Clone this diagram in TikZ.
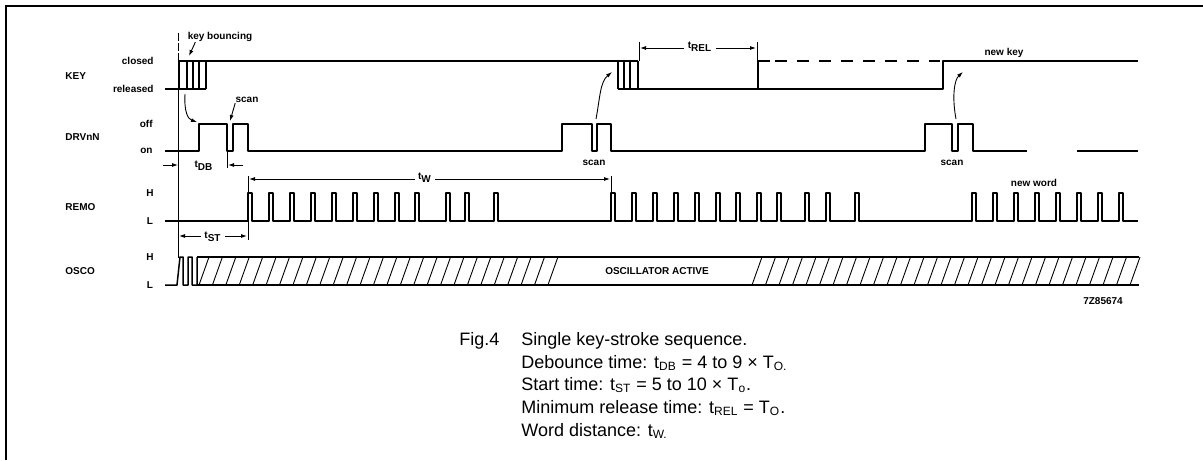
\documentclass[tikz,border=0pt]{standalone}
\usepackage{fontspec}
\setmainfont{Liberation Sans}
\usetikzlibrary{arrows.meta}
\begin{document}
\begin{tikzpicture}[x=0.5pt,y=-0.5pt,
  wave/.style={line width=0.75pt, line join=round},
  dim/.style={line width=0.4pt},
  arr/.style={line width=0.45pt, -{Latex[length=3pt,width=2pt]}},
  lbl/.style={font=\fontsize{5}{6}\selectfont\bfseries, inner sep=0pt},
  sig/.style={font=\fontsize{5}{6}\selectfont\bfseries, inner sep=0pt, anchor=west},
  lev/.style={font=\fontsize{5}{6}\selectfont\bfseries, inner sep=0pt, anchor=east},
  captxt/.style={font=\fontsize{9}{11}\selectfont, inner sep=0pt, anchor=base west},
  hatch/.style={line width=0.45pt}]
\useasboundingbox (0,0) rectangle (1203,460);
% frame
\draw[line width=1pt] (1203,6) -- (6,6) -- (6,460);

% signal names
\node[sig] (nkey) at (65,76) {KEY};
\node[sig] (ndrv) at (65,137) {DRVnN};
\node[sig] (nremo) at (65,207) {REMO};
\node[sig] (nosco) at (65,271) {OSCO};
% level labels
\node[lev] (lclosed) at (154,61) {closed};
\node[lev] (lrel) at (154,89) {released};
\node[lev] (loff) at (153,124) {off};
\node[lev] (lon) at (153,151) {on};
\node[lbl] (lh1) at (150,193) {H};
\node[lbl] (ll1) at (150,221) {L};
\node[lbl] (lh2) at (150,257) {H};
\node[lbl] (ll2) at (150,285) {L};

% reference vertical line
\draw[dim, dash pattern=on 4pt off 1pt] (178,33) -- (178,61);
\draw[dim] (178,89) -- (178,258);

% KEY waveform
\draw[wave] (165,89) -- (206,89);
\draw[wave] (179,89) -- (179,61) -- (638,61);
\foreach \v in {187,193,199,206} \draw[wave] (\v,61) -- (\v,89);
\foreach \v in {618,624,630,638} \draw[wave] (\v,61) -- (\v,89);
\draw[wave] (618,89) -- (943,89) -- (943,61) -- (1138,61);
\draw[wave] (758,89) -- (758,61) -- (770,61);
\draw[wave, dash pattern=on 6pt off 5pt] (775,61) -- (940,61);

% DRVnN waveform
\draw[wave] (165,151) -- (199,151) -- (199,124) -- (227,124) -- (227,151) -- (233,151) -- (233,124) -- (248,124) -- (248,151)
  -- (562,151) -- (562,124) -- (592,124) -- (592,151) -- (597,151) -- (597,124) -- (611,124) -- (611,151)
  -- (925,151) -- (925,124) -- (952,124) -- (952,151) -- (958,151) -- (958,124) -- (973,124) -- (973,151) -- (1027,151);
\draw[wave] (1077,151) -- (1138,151);

% REMO waveform
\draw[wave] (165,221)
  foreach \p in {248,269,290,311,332,353,374,395,415,446,465,494,
                 611,632,653,674,695,716,736,757,777,805,826,855,
                 972,993,1014,1035,1056,1077,1098,1119}
  { -- (\p,221) -- (\p,193) -- (\p+4,193) -- (\p+4,221) } -- (1138,221);

% OSCO waveform
\draw[wave] (165,285) -- (177,285) -- (180,257) -- (183,257) -- (183,285) -- (188,285) -- (188,257) -- (192,257) -- (192,285) -- (197,285) -- (197,257);
\draw[wave] (197,257) -- (1139,257);
\draw[wave] (197,285) -- (1139,285);
\foreach \k in {0,...,26} \draw[hatch] ({199+13.42*\k},285) -- ({209+13.42*\k},257);
\foreach \k in {0,...,28} \draw[hatch] ({752+13.5*\k},285) -- ({762+13.5*\k},257);
\node[lbl] (osc) at (657,271) {OSCILLATOR ACTIVE};

% annotations
\node[lbl] (kb) at (220,37) {key bouncing};
\coordinate (kbt) at (189,56);
\draw[arr] (kb.south west) ++(8,0) -- (kbt);
\node[lbl] (scan1) at (247,100) {scan};
\coordinate (scan1t) at (230,121);
\draw[arr] (scan1.south west) -- (scan1t);
\coordinate (c1s) at (185,94);
\coordinate (c1e) at (197,122);
\draw[arr] (c1s) .. controls (184,112) and (188,119) .. (c1e);

\node[lbl] (scan2) at (594,163) {scan};
\coordinate (c2s) at (596,119);
\coordinate (c2e) at (612,72);
\draw[arr] (c2s) .. controls (600,98) and (600,82) .. (c2e);
\node[lbl] (scan3) at (952,163) {scan};
\coordinate (c3s) at (956,119);
\coordinate (c3e) at (963,72);
\draw[arr] (c3s) .. controls (952,98) and (954,80) .. (c3e);

\node[lbl] (newkey) at (1004,53) {new key};
\node[lbl] (newword) at (1034,183) {new word};
\node[lbl] (code) at (1103,301) {7Z85674};

% t_DB
\node[lbl] (tdb) at (204,166) {t\textsubscript{DB}};
\coordinate (tdbl) at (178,165);
\coordinate (tdbr) at (228,165);
\draw[arr] (163,165) -- (tdbl);
\draw[arr] (243,165) -- (tdbr);
\draw[dim] (227,152) -- (227,168);

% t_ST
\node[lbl] (tst) at (213,237) {t\textsubscript{ST}};
\coordinate (tstl) at (179,236);
\coordinate (tstr) at (247,236);
\draw[arr] (tst.west) ++(-3,-1) -- (tstl);
\draw[arr] (tst.east) ++(3,-1) -- (tstr);
\draw[dim] (248,221) -- (248,240);

% t_W
\node[lbl] (tw) at (425,178) {t\textsubscript{W}};
\coordinate (twl) at (249,179);
\coordinate (twr) at (610,179);
\draw[arr] (tw.west) ++(-3,1) -- (twl);
\draw[arr] (tw.east) ++(3,1) -- (twr);
\draw[dim] (248,176) -- (248,193);
\draw[dim] (611,176) -- (611,193);

% t_REL
\node[lbl] (trel) at (700,47) {t\textsubscript{REL}};
\coordinate (trell) at (640,48);
\coordinate (trelr) at (756,48);
\draw[arr] (trel.west) ++(-3,1) -- (trell);
\draw[arr] (trel.east) ++(3,1) -- (trelr);
\draw[dim] (639,42) -- (639,61);
\draw[dim] (757,42) -- (757,61);

% caption
\node[captxt] (fig) at (459,345) {Fig.4};
\node[captxt] (c1) at (521,345) {Single key-stroke sequence.};
\node[captxt] (c2) at (521,368) {Debounce time: t\textsubscript{DB} = 4 to 9 × T\textsubscript{O.}};
\node[captxt] (c3) at (521,390.5) {Start time: t\textsubscript{ST} = 5 to 10 × T\textsubscript{o}.};
\node[captxt] (c4) at (521,413) {Minimum release time: t\textsubscript{REL} = T\textsubscript{O}.};
\node[captxt] (c5) at (521,436) {Word distance: t\textsubscript{W.}};
\end{tikzpicture}
\end{document}
